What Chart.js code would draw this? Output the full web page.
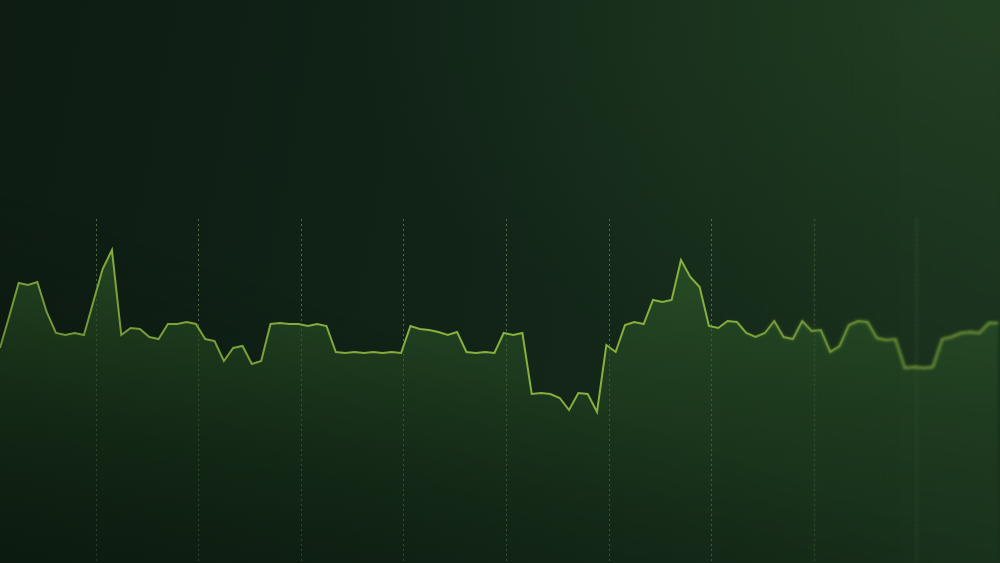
<!DOCTYPE html>
<html>
<head>
<meta charset="utf-8">
<script src="https://cdn.jsdelivr.net/npm/chart.js@4"></script>
<style>
  html, body { margin: 0; padding: 0; }
  body {
    width: 1000px; height: 563px; overflow: hidden; position: relative;
    background:
      radial-gradient(ellipse 650px 420px at 100% 0%, rgba(36,66,36,0.8), rgba(36,66,36,0) 100%),
      linear-gradient(100deg, #0e1c13 0%, #112317 45%, #19301d 100%),
      #0f1e14;
  }
  #wrap { position: absolute; left: 0; top: 0; width: 1000px; height: 563px; }
  #soft {
    position: absolute; left: 0; top: 0; width: 1000px; height: 563px;
    backdrop-filter: blur(1.4px);
    -webkit-mask-image: linear-gradient(to right, rgba(0,0,0,0) 72%, rgba(0,0,0,1) 90%);
    mask-image: linear-gradient(to right, rgba(0,0,0,0) 72%, rgba(0,0,0,1) 90%);
    pointer-events: none;
  }
  #shade {
    position: absolute; left: 0; top: 0; width: 1000px; height: 563px;
    background: linear-gradient(20deg, rgba(8,18,10,0.5) 0%, rgba(8,18,10,0) 40%);
    pointer-events: none;
  }
</style>
</head>
<body>
<div id="wrap"><canvas id="myLineChart" width="1000" height="563"></canvas></div>
<div id="shade"></div>
<div id="soft"></div>
<script>
// LINE SERIES - one value per sample
var values = [
  215, 247, 280, 278, 281, 251, 230, 228, 230, 228,
  261, 294, 313, 228, 235, 234, 226, 224, 239, 239,
  241, 239, 224, 222, 202, 215, 217, 199, 202, 239,
  240, 239, 239, 237, 239, 237, 211, 210, 211, 210,
  211, 210, 211, 210, 237, 234, 233, 231, 228, 231,
  211, 210, 211, 210, 230, 228, 230, 169, 170, 169,
  165, 153, 170, 169, 151, 218, 211, 238, 241, 239,
  263, 261, 263, 303, 286, 276, 237, 235, 242, 241,
  230, 226, 230, 242, 226, 224, 242, 232, 233, 211,
  217, 238, 242, 241, 225, 223, 224, 195, 196, 195,
  196, 224, 226, 230, 231, 230, 240, 240
];

// dotted vertical guides (in sample units)
var gridTicks = [10.3, 21.3, 32.3, 43.3, 54.3, 65.3, 76.3, 87.3, 98.3];

var ctx = document.getElementById('myLineChart').getContext('2d');
var chart = new Chart(ctx, {
    type: 'line',
    data: {
        datasets: [{
            data: values.map(function (v, i) { return { x: i, y: v }; }),
            borderColor: 'rgb(136,176,62)',
            borderWidth: 2,
            pointRadius: 0,
            tension: 0,
            fill: 'start',
            backgroundColor: function (context) {
                var area = context.chart.chartArea;
                if (!area) return 'rgba(40,80,35,0.4)';
                var g = context.chart.ctx.createLinearGradient(0, 250, 0, area.bottom);
                g.addColorStop(0, 'rgba(48,92,42,0.7)');
                g.addColorStop(1, 'rgba(30,60,30,0.2)');
                return g;
            }
        }]
    },
    options: {
        responsive: false,
        animation: false,
        layout: { padding: { top: 219, left: 0, right: 0, bottom: 0 } },
        plugins: { legend: { display: false }, tooltip: { enabled: false } },
        scales: {
            x: {
                type: 'linear',
                min: 0,
                max: 107.2,
                afterBuildTicks: function (axis) {
                    axis.ticks = gridTicks.map(function (v) { return { value: v }; });
                },
                ticks: { display: false },
                grid: { color: 'rgba(125,155,100,0.6)', lineWidth: 1, drawTicks: false },
                border: { display: false, dash: [2, 3] }
            },
            y: { display: false, min: 0, max: 344 }
        }
    }
});
</script>
</body>
</html>
